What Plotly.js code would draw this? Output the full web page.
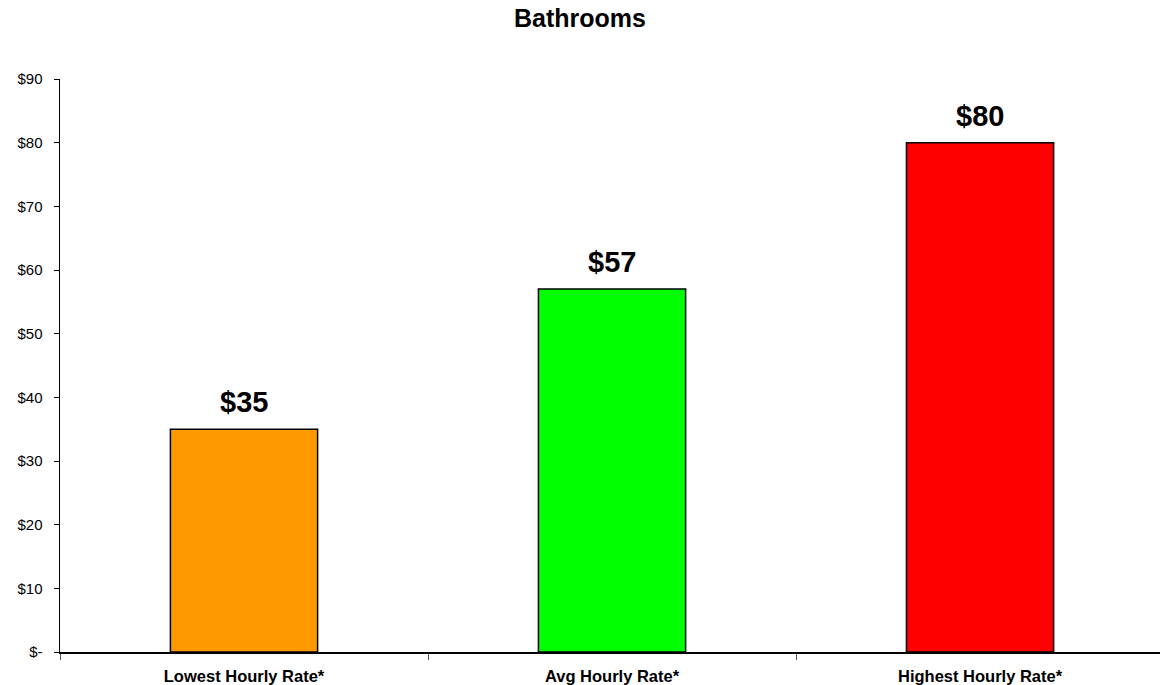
<!DOCTYPE html>
<html>
<head>
<meta charset="utf-8">
<script src="https://cdn.plot.ly/plotly-3.0.1.min.js"></script>
<style>html,body{margin:0;padding:0;background:#fff;}#chart{width:1160px;height:685px;}</style>
</head>
<body>
<div id="chart"></div>
<script>
const categories = ['Lowest Hourly Rate*', 'Avg Hourly Rate*', 'Highest Hourly Rate*'];
const values = [35, 57, 80];
const barColors = ['#FF9900', '#00FF00', '#FF0000'];
const valueLabels = ['$35', '$57', '$80'];
const yTickVals = [0, 10, 20, 30, 40, 50, 60, 70, 80, 90];
const yTickText = ['$-', '$10', '$20', '$30', '$40', '$50', '$60', '$70', '$80', '$90'];

const font = 'Arial, "Liberation Sans", sans-serif';

const trace = {
  type: 'bar',
  x: categories,
  y: values,
  width: 0.4,
  marker: {color: barColors, line: {color: '#000', width: 1.5}},
  hoverinfo: 'none'
};

const annotations = categories.map((c, i) => ({
  x: c, y: values[i], xref: 'x', yref: 'y',
  text: '<b>' + valueLabels[i] + '</b>',
  showarrow: false, yanchor: 'bottom', yshift: 9,
  font: {family: font, size: 29, color: '#000'}
}));

const layout = {
  width: 1160, height: 685,
  margin: {l: 60, r: 0, t: 79, b: 33},
  paper_bgcolor: '#fff', plot_bgcolor: '#fff',
  showlegend: false,
  title: {text: '<b>Bathrooms</b>', font: {family: font, size: 25, color: '#000'},
          x: 0.5, xanchor: 'center', y: 1 - 18/685, yanchor: 'middle', yref: 'container'},
  xaxis: {
    type: 'category',
    range: [-0.5, 2.489],
    showline: true, linecolor: '#000', linewidth: 1.5,
    ticks: 'outside', ticklen: 6, tickcolor: '#555', tickwidth: 1,
    tickson: 'boundaries',
    tickfont: {family: font, size: 16.5, color: '#000'},
    tickvals: categories,
    ticktext: categories.map(c => '<b>' + c + '</b>'),
    ticklabelstandoff: 9,
    showgrid: false, zeroline: false
  },
  yaxis: {
    range: [0, 90],
    tickmode: 'array', tickvals: yTickVals, ticktext: yTickText,
    showline: true, linecolor: '#000', linewidth: 1.5,
    ticks: 'outside', ticklen: 5, tickcolor: '#000', tickwidth: 1,
    tickfont: {family: font, size: 15, color: '#000'},
    ticklabelstandoff: 8,
    showgrid: false, zeroline: false
  },
  annotations: annotations,
  bargap: 0.6
};

Plotly.newPlot('chart', [trace], layout, {displayModeBar: false, staticPlot: true});
</script>
</body>
</html>
